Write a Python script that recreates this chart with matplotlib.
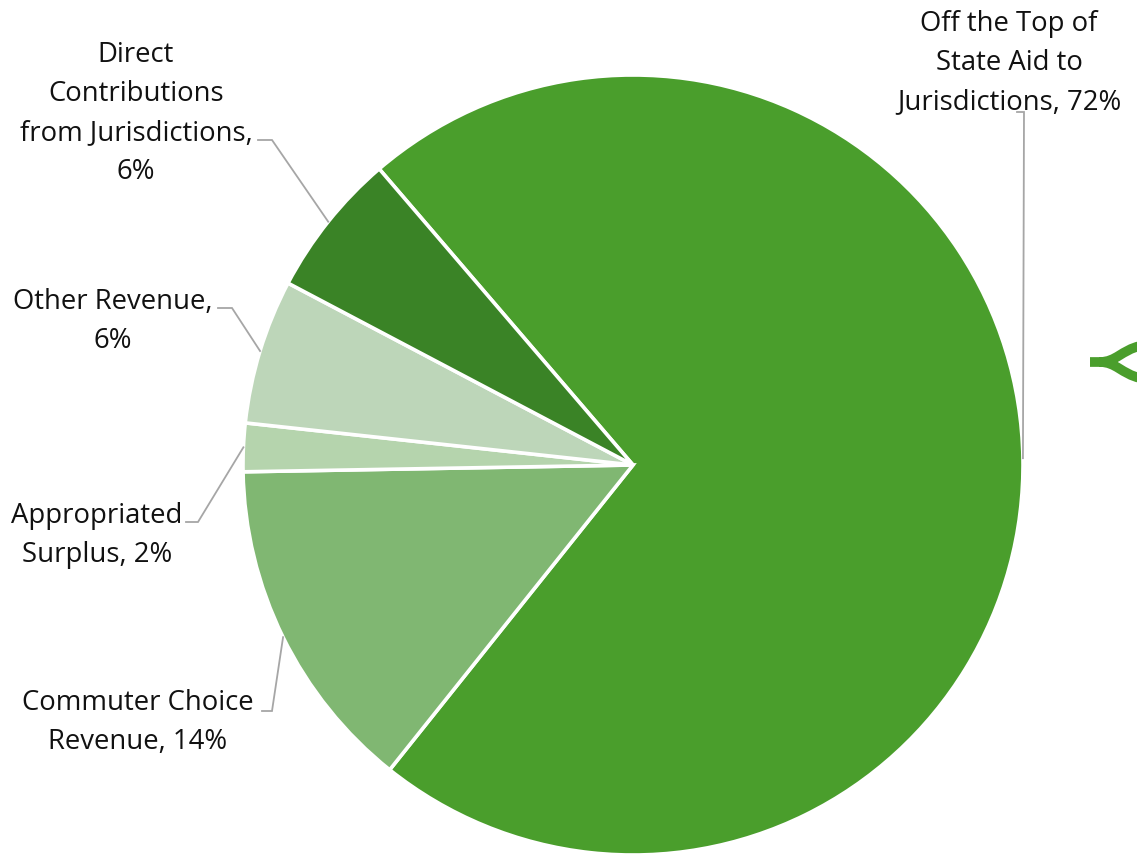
import numpy as np
import matplotlib.pyplot as plt
from matplotlib.path import Path
from matplotlib.patches import PathPatch

# revenue shares, in clockwise order from the big slice
labels = ['Off the Top of\nState Aid to\nJurisdictions, 72%',
          'Commuter Choice\nRevenue, 14%',
          'Appropriated\nSurplus, 2%',
          'Other Revenue,\n6%',
          'Direct\nContributions\nfrom Jurisdictions,\n6%']
shares = [72, 14, 2, 6, 6]
colors = ['#4a9e2c', '#80b772', '#b5d4ad', '#bdd6b9', '#3a8326']

W, H = 1137, 856
fig = plt.figure(figsize=(W / 100, H / 100), dpi=100)
ax = fig.add_axes([0, 0, 1, 1])

cx, cy, r = 633, H - 465, 390
start = 130.6
wedges, _ = ax.pie(shares, colors=colors, startangle=start, counterclock=False,
                   center=(cx, cy), radius=r,
                   wedgeprops=dict(edgecolor='white', linewidth=2.6))
ax.set_xlim(0, W)
ax.set_ylim(0, H)
ax.set_aspect('equal')
ax.axis('off')

# label text position (x, top of first line) and leader elbow
label_pos = [
    (1009, 10, (1017, 112)),
    (138, 689, (272, 711)),
    (97, 502, (198, 522)),
    (113, 288, (232, 308)),
    (136, 41, (272, 140)),
]
elbow_start = [1024, 262, 186, 218, 258]

font = dict(family=['Open Sans', 'DejaVu Sans'], fontsize=19.8, color='#111111')
for w, lab, (tx, ty, (ex, ey)), sx in zip(wedges, labels, label_pos, elbow_start):
    mid = np.deg2rad((w.theta1 + w.theta2) / 2)
    px = cx + r * np.cos(mid)
    py = cy + r * np.sin(mid)
    ax.text(tx, H - ty, lab, ha='center', va='top', linespacing=1.53, **font)
    if lab.startswith('Off'):
        xs = [ex, 1024, px]
    else:
        xs = [sx, ex, px]
    ys = [H - ey, H - ey, py]
    ax.plot(xs, ys, color='#a6a6a6', lw=1.3, solid_joinstyle='miter')

# brace tip cut by the right edge
verts = [(1090, H - 362), (1104, H - 362),
         (1100, H - 362), (1116, H - 362), (1122, H - 350), (1140, H - 346),
         (1100, H - 362), (1116, H - 362), (1122, H - 374), (1140, H - 378)]
codes = [Path.MOVETO, Path.LINETO,
         Path.MOVETO, Path.CURVE4, Path.CURVE4, Path.CURVE4,
         Path.MOVETO, Path.CURVE4, Path.CURVE4, Path.CURVE4]
ax.add_patch(PathPatch(Path(verts, codes), facecolor='none',
                       edgecolor='#4a9e2c', lw=7, clip_on=False))

fig.savefig('out.png', dpi=100)
